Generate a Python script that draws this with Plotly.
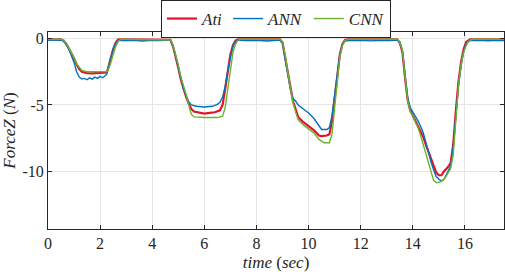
import plotly.graph_objects as go

# ---- data ----
t_ati = [0, 0.3, 0.5, 0.6, 0.7, 0.8, 0.9, 1.0, 1.1, 1.2, 1.3, 1.5, 1.7, 1.9, 2.1, 2.25, 2.3, 2.4, 2.5, 2.6, 2.7, 3.0, 4.0,
         4.6, 4.7, 4.8, 4.9, 5.0, 5.1, 5.2, 5.3, 5.4, 5.5, 5.6, 5.8, 6.0, 6.2, 6.4, 6.6, 6.7, 6.8, 6.9, 7.0, 7.1, 7.2, 7.3, 8.0,
         8.9, 9.0, 9.1, 9.2, 9.3, 9.4, 9.5, 9.6, 9.8, 10.0, 10.2, 10.4, 10.5, 10.7, 10.8, 10.9, 11.0, 11.1, 11.2, 11.3, 11.4, 11.5, 12.5,
         13.4, 13.5, 13.6, 13.7, 13.8, 13.9, 14.0, 14.1, 14.2, 14.3, 14.4, 14.5, 14.6, 14.7, 14.8, 14.9, 15.0, 15.1, 15.2, 15.3, 15.45,
         15.55, 15.65, 15.75, 15.85, 15.95, 16.05, 16.2, 17.5]
f_ati = [-0.05, -0.05, -0.05, -0.15, -0.4, -0.75, -1.1, -1.5, -1.95, -2.3, -2.5, -2.6, -2.62, -2.6, -2.58, -2.55, -2.3, -1.5, -0.8, -0.3, -0.05, -0.05, -0.05,
         -0.05, -0.1, -0.6, -1.3, -2.2, -3.1, -3.8, -4.4, -4.9, -5.3, -5.5, -5.6, -5.65, -5.6, -5.55, -5.4, -5.0, -3.8, -2.4, -1.2, -0.5, -0.15, -0.05, -0.05,
         -0.05, -0.3, -1.4, -2.7, -3.9, -4.7, -5.3, -5.9, -6.3, -6.6, -6.9, -7.3, -7.35, -7.3, -7.2, -6.2, -4.5, -2.6, -1.2, -0.4, -0.1, -0.05, -0.05,
         -0.05, -0.3, -1.0, -2.9, -4.6, -5.4, -5.8, -6.2, -6.6, -7.0, -7.4, -8.0, -8.5, -9.0, -9.6, -10.1, -10.3, -10.3, -10.0, -9.8, -9.4,
         -8.0, -5.5, -3.3, -1.8, -0.8, -0.25, -0.05, -0.05]

t_ann = [0, 0.3, 0.5, 0.6, 0.7, 0.8, 0.9, 1.0, 1.1, 1.2, 1.3, 1.4, 1.5, 1.6, 1.7, 1.8, 1.9, 2.0, 2.1, 2.2, 2.25, 2.3, 2.4, 2.5, 2.6, 2.7,
         3.0, 3.3, 3.6, 4.0, 4.3, 4.6, 4.7, 4.8, 4.9, 5.0, 5.1, 5.2, 5.3, 5.4, 5.5, 5.7, 6.0, 6.3, 6.5, 6.6, 6.7, 6.8, 6.9, 7.0, 7.1, 7.2, 7.3,
         7.6, 8.0, 8.4, 8.9, 9.0, 9.1, 9.2, 9.3, 9.4, 9.5, 9.6, 9.8, 10.0, 10.2, 10.4, 10.5, 10.7, 10.8, 10.9, 11.0, 11.1, 11.2, 11.3, 11.4,
         11.6, 12.0, 12.4, 12.8, 13.1, 13.4, 13.5, 13.6, 13.7, 13.8, 13.9, 14.0, 14.1, 14.2, 14.3, 14.4, 14.5, 14.6, 14.7, 14.8, 14.9, 15.0,
         15.1, 15.2, 15.3, 15.45, 15.55, 15.65, 15.75, 15.85, 15.95, 16.05, 16.2, 16.5, 16.9, 17.2, 17.5]
f_ann = [-0.1, -0.12, -0.12, -0.2, -0.45, -0.8, -1.3, -1.8, -2.5, -2.9, -3.05, -3.0, -3.1, -2.95, -3.05, -2.9, -3.0, -2.85, -2.95, -2.8, -2.7, -2.3, -1.5, -0.8, -0.35, -0.15,
         -0.15, -0.12, -0.18, -0.12, -0.15, -0.1, -0.15, -0.6, -1.3, -2.2, -3.1, -3.8, -4.3, -4.75, -5.0, -5.1, -5.15, -5.1, -4.95, -4.8, -4.4, -3.6, -2.4, -1.3, -0.5, -0.2, -0.12,
         -0.15, -0.12, -0.18, -0.1, -0.35, -1.4, -2.7, -3.8, -4.5, -4.7, -5.0, -5.3, -5.6, -6.0, -6.6, -6.85, -6.85, -6.7, -5.8, -4.2, -2.5, -1.2, -0.45, -0.18,
         -0.15, -0.12, -0.17, -0.12, -0.15, -0.1, -0.3, -0.9, -2.7, -4.4, -5.2, -5.5, -5.8, -6.2, -6.6, -7.1, -7.8, -8.6, -9.3, -9.9, -10.4, -10.6,
         -10.72, -10.6, -10.2, -9.6, -8.2, -5.8, -3.6, -2.1, -1.0, -0.35, -0.15, -0.12, -0.16, -0.12, -0.15]

t_cnn = [0, 0.3, 0.5, 0.6, 0.7, 0.8, 0.9, 1.0, 1.1, 1.2, 1.3, 1.5, 1.7, 1.9, 2.1, 2.25, 2.3, 2.4, 2.5, 2.6, 2.7, 2.8, 3.0, 4.0,
         4.6, 4.7, 4.8, 4.9, 5.0, 5.1, 5.2, 5.3, 5.4, 5.5, 5.6, 6.0, 6.5, 6.7, 6.8, 6.9, 7.0, 7.1, 7.2, 7.3, 7.4, 8.0,
         8.9, 9.0, 9.1, 9.2, 9.3, 9.4, 9.5, 9.6, 9.8, 10.0, 10.2, 10.4, 10.6, 10.8, 10.9, 11.0, 11.1, 11.2, 11.3, 11.4, 11.5, 12.5,
         13.4, 13.5, 13.6, 13.7, 13.8, 13.9, 14.0, 14.1, 14.2, 14.3, 14.4, 14.5, 14.6, 14.7, 14.8, 14.9, 15.0, 15.1, 15.2, 15.3, 15.45,
         15.55, 15.65, 15.75, 15.85, 15.95, 16.1, 16.2, 16.3, 17.5]
f_cnn = [-0.05, -0.05, -0.05, -0.12, -0.35, -0.7, -1.05, -1.45, -1.9, -2.2, -2.4, -2.5, -2.5, -2.52, -2.5, -2.48, -2.4, -1.9, -1.2, -0.6, -0.2, -0.05, -0.05, -0.05,
         -0.05, -0.1, -0.5, -1.2, -2.0, -2.9, -3.5, -4.2, -5.0, -5.7, -5.9, -5.95, -5.95, -5.85, -5.2, -3.8, -2.3, -1.0, -0.4, -0.1, -0.05, -0.05,
         -0.05, -0.25, -1.2, -2.5, -3.8, -4.8, -5.5, -6.1, -6.5, -6.8, -7.1, -7.6, -7.85, -7.85, -7.2, -5.2, -3.0, -1.4, -0.5, -0.15, -0.05, -0.05,
         -0.05, -0.25, -0.9, -2.8, -4.6, -5.5, -5.8, -6.3, -6.7, -7.3, -8.0, -8.6, -9.4, -10.2, -10.7, -10.85, -10.85, -10.75, -10.6, -10.3, -9.8,
         -8.8, -6.0, -3.6, -2.0, -1.0, -0.3, -0.1, -0.05, -0.05]

x_ticks = [0, 2, 4, 6, 8, 10, 12, 14, 16]
y_ticks = [0, -5, -10]
y_tick_text = ["0", "-5", "-10"]

series = [("<i>Ati</i>", t_ati, f_ati, "#E3122C", 2.2),
          ("<i>ANN</i>", t_ann, f_ann, "#0072BD", 1.4),
          ("<i>CNN</i>", t_cnn, f_cnn, "#6DB22E", 1.4)]

SERIF = "Liberation Serif, serif"

fig = go.Figure()
for name, t, f, c, w in series:
    fig.add_trace(go.Scatter(x=t, y=f, mode="lines", name=name,
                             line=dict(color=c, width=w)))

axis_common = dict(showline=True, linecolor="#262626", linewidth=1, mirror="ticks",
                   ticks="inside", ticklen=4, tickcolor="#262626",
                   showgrid=True, gridcolor="#E6E6E6", gridwidth=1, zeroline=False,
                   automargin=False,
                   tickfont=dict(family=SERIF, size=16, color="#262626"))

fig.update_xaxes(range=[0, 17.5], tickvals=x_ticks, **axis_common,
                 title=dict(text="<i>time</i> (<i>sec</i>)", font=dict(family=SERIF, size=17, color="#262626"),
                            standoff=4))
fig.update_yaxes(range=[-14.35, 0.5], tickvals=y_ticks, ticktext=y_tick_text, **axis_common,
                 title=dict(text="<i>ForceZ</i> (<i>N</i>)", font=dict(family=SERIF, size=17, color="#262626"),
                            standoff=6))

fig.update_layout(
    width=505, height=274,
    margin=dict(l=48, r=1, t=32, b=45, autoexpand=False),
    paper_bgcolor="white", plot_bgcolor="white",
    showlegend=True,
    legend=dict(orientation="h", x=0.5, xanchor="center", xref="paper",
                y=1.0, yanchor="top", yref="container",
                bordercolor="#262626", borderwidth=1, bgcolor="white",
                font=dict(family=SERIF, size=17, color="#262626"),
                itemwidth=30, tracegroupgap=0),
)

fig.write_html("out.html", config={"displayModeBar": False},
               post_script="document.body.style.margin='0';")
